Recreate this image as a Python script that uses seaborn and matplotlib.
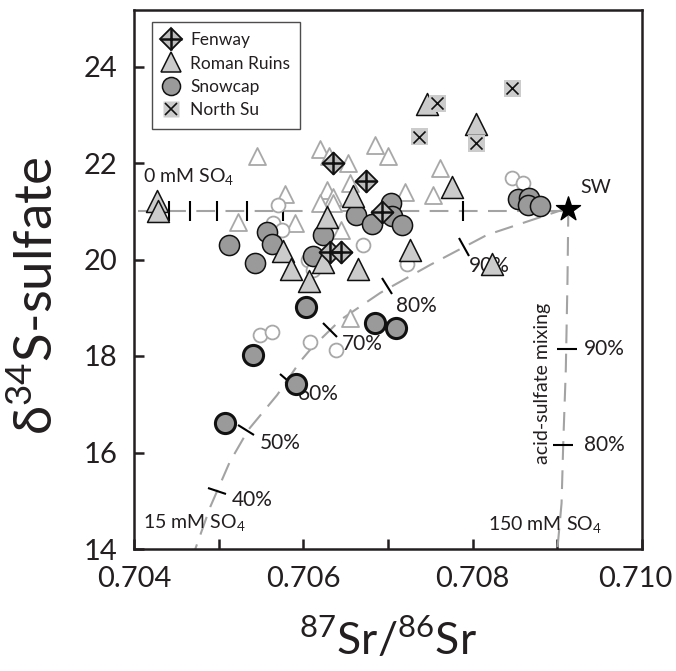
import numpy as np
import pandas as pd
import matplotlib
matplotlib.use("Agg")
import matplotlib.pyplot as plt
import seaborn as sns
from matplotlib.markers import MarkerStyle
from matplotlib.transforms import Affine2D, ScaledTranslation
from matplotlib.lines import Line2D
from matplotlib.legend_handler import HandlerTuple

sns.set_style("ticks")
plt.rcParams['font.family'] = ['Lato', 'DejaVu Sans']
plt.rcParams['mathtext.fontset'] = 'custom'
plt.rcParams['mathtext.rm'] = 'Lato'

# ---- data ----
fenway_sr = [0.70635, 0.70674, 0.70693, 0.70632, 0.70644]
fenway_s = [22.00, 21.63, 20.98, 20.16, 20.16]

roman_sr = [0.70427, 0.70428, 0.70576, 0.70586, 0.70607, 0.70623, 0.70628,
            0.70659, 0.70665, 0.70726, 0.70746, 0.70775, 0.70804, 0.70823]
roman_s = [21.21, 21.01, 20.18, 19.80, 19.55, 19.95, 20.88,
           21.32, 19.80, 20.20, 23.22, 21.50, 22.81, 19.91]

snow_sr = [0.70512, 0.70543, 0.70557, 0.70563, 0.70612, 0.70623, 0.70662,
           0.70681, 0.70703, 0.70705, 0.70717, 0.70853, 0.70866, 0.70865, 0.70879]
snow_s = [20.30, 19.93, 20.57, 20.32, 20.07, 20.51, 20.92,
          20.74, 21.17, 20.90, 20.72, 21.25, 21.27, 21.13, 21.11]
# Snowcap samples drawn with heavy outline
snow2_sr = [0.70603, 0.70541, 0.70591, 0.70508, 0.70685, 0.70710]
snow2_s = [19.02, 18.02, 17.42, 16.61, 18.68, 18.58]

northsu_sr = [0.70758, 0.70737, 0.70847, 0.70804]
northsu_s = [23.24, 22.54, 23.55, 22.41]

# open grey symbols (other data)
open_tri_sr = [0.70545, 0.70620, 0.70630, 0.70685, 0.70700, 0.70653, 0.70762,
               0.70578, 0.70628, 0.70635, 0.70655, 0.70720, 0.70753, 0.70523,
               0.70590, 0.70620, 0.70635, 0.70644, 0.70655]
open_tri_s = [22.15, 22.29, 22.15, 22.37, 22.15, 22.00, 21.90,
              21.36, 21.44, 21.30, 21.59, 21.40, 21.34, 20.78,
              20.76, 21.17, 21.17, 20.61, 18.79]
open_circ_sr = [0.70570, 0.70564, 0.70575, 0.70606, 0.70612, 0.70671, 0.70723,
                0.70847, 0.70859, 0.70549, 0.70563, 0.70608, 0.70639]
open_circ_s = [21.13, 20.76, 20.61, 19.99, 19.78, 20.30, 19.91,
               21.69, 21.59, 18.44, 18.50, 18.29, 18.12]

sw_sr, sw_s = 0.70913, 21.05

# mixing lines
fresh_tick_sr = [0.70441, 0.70466, 0.70498, 0.70534, 0.70576, 0.70632, 0.70789]

mix15_sr = [0.70913, 0.70817, 0.70750, 0.70691, 0.70644, 0.70610, 0.70596,
            0.70569, 0.70535, 0.70513, 0.70490, 0.70472]
mix15_s = [21.07, 20.51, 19.89, 19.31, 18.75, 18.17, 17.88,
           17.19, 16.47, 15.80, 14.87, 13.98]
mix15_tick_sr = [0.70790, 0.70699, 0.70632, 0.70581, 0.70532, 0.70498]
mix15_tick_s = [20.26, 19.45, 18.54, 17.50, 16.47, 15.20]
mix15_labels = ['90%', '80%', '70%', '60%', '50%', '40%']
mix15_label_sr = [0.70795, 0.70709, 0.70646, 0.70593, 0.70549, 0.70516]
mix15_label_s = [19.87, 19.04, 18.25, 17.21, 16.20, 15.02]

acid_sr = [0.70913, 0.70912, 0.70910, 0.70907, 0.70905, 0.70900]
acid_s = [21.07, 19.58, 17.71, 16.20, 14.95, 13.98]
acid_tick_sr = [0.70911, 0.70907]
acid_tick_s = [18.15, 16.16]
acid_labels = ['90%', '80%']

x_ticks = [0.704, 0.706, 0.708, 0.710]
x_ticklabels = ['0.704', '0.706', '0.708', '0.710']
x_minor = [0.705, 0.707, 0.709]
y_ticks = [14, 16, 18, 20, 22, 24]

# ---- figure ----
W, H = 676, 671
fig = plt.figure(figsize=(W / 100, H / 100), dpi=100)
ax = fig.add_axes([134 / W, 1 - 549 / H, 508 / W, 539 / H])
ax.set_xlim(0.704, 0.710)
ax.set_ylim(14, 14 + 539 / 48.25)

dash_kw = dict(color='#a3a3a3', lw=1.5, dashes=(9, 5), zorder=1)
ax.plot([0.70405, sw_sr], [21.0, 21.0], **dash_kw)
ax.plot(mix15_sr, mix15_s, **dash_kw)
ax.plot(acid_sr, acid_s, **dash_kw)


def perp_ticks(curve_x, curve_y, tx, ty, length=14):
    """short black ticks perpendicular to a curve (in screen space)"""
    pts = ax.transData.transform(np.column_stack([curve_x, curve_y]))
    tp = ax.transData.transform(np.column_stack([tx, ty]))
    for (px, py), x, y in zip(tp, tx, ty):
        d = np.hypot(pts[:, 0] - px, pts[:, 1] - py)
        i = int(np.argmin(d))
        j = i + 1 if i + 1 < len(pts) else i - 1
        a, b = pts[min(i, j)], pts[max(i, j)]
        ang = np.degrees(np.arctan2(b[1] - a[1], b[0] - a[0]))
        m = MarkerStyle('|', transform=Affine2D().rotate_deg(ang))
        ax.plot([x], [y], marker=m, ms=length, mew=1.5, color='k',
                ls='none', zorder=2)


ax.plot(fresh_tick_sr, [21.0] * len(fresh_tick_sr), marker='|', ms=14,
        mew=1.5, color='k', ls='none', zorder=2)
perp_ticks(mix15_sr, mix15_s, mix15_tick_sr, mix15_tick_s)
ax.plot(acid_tick_sr, acid_tick_s, marker='_', ms=14, mew=1.5, color='k',
        ls='none', zorder=2)

# open (other) data
sns.scatterplot(x=open_tri_sr, y=open_tri_s, marker='^', s=150,
                facecolor='white', edgecolor='#a8a8a8', linewidth=1.3,
                ax=ax, zorder=3, legend=False)
sns.scatterplot(x=open_circ_sr, y=open_circ_s, marker='o', s=100,
                facecolor='white', edgecolor='#a8a8a8', linewidth=1.3,
                ax=ax, zorder=3, legend=False)

# study data
sns.scatterplot(x=snow_sr, y=snow_s, marker='o', s=210, color='#9a9a9a',
                edgecolor='#111111', linewidth=1.1, ax=ax, zorder=4, legend=False)
sns.scatterplot(x=snow2_sr, y=snow2_s, marker='o', s=210, color='#9a9a9a',
                edgecolor='#111111', linewidth=2.2, ax=ax, zorder=4, legend=False)
sns.scatterplot(x=roman_sr, y=roman_s, marker='^', s=250, color='#cbcbcb',
                edgecolor='#111111', linewidth=1.1, ax=ax, zorder=5, legend=False)
sns.scatterplot(x=northsu_sr, y=northsu_s, marker='s', s=150, color='#cccccc',
                edgecolor='none', linewidth=0, ax=ax, zorder=5, legend=False)
sns.scatterplot(x=northsu_sr, y=northsu_s, marker='x', s=75, color='#111111',
                linewidth=1.2, ax=ax, zorder=6, legend=False)
sns.scatterplot(x=fenway_sr, y=fenway_s, marker='D', s=125, color='#bdbdbd',
                edgecolor='#111111', linewidth=1.3, ax=ax, zorder=6, legend=False)
sns.scatterplot(x=fenway_sr, y=fenway_s, marker='+', s=250, color='#111111',
                linewidth=1.8, ax=ax, zorder=7, legend=False)
ax.scatter([sw_sr], [sw_s], marker='*', s=330, color='k', zorder=8)

# annotations
txt = dict(fontsize=14, color='#231f20', va='center', ha='left')
ax.text(0.70411, 21.71, r'0 mM SO$_\mathregular{4}$', **txt)
ax.text(0.70411, 14.54, r'15 mM SO$_\mathregular{4}$', **txt)
ax.text(0.70818, 14.50, r'150 mM SO$_\mathregular{4}$', **txt)
ax.text(0.70927, 21.50, 'SW', **txt)
for lab, x, y in zip(mix15_labels, mix15_label_sr, mix15_label_s):
    ax.text(x, y, lab, fontsize=15, color='#231f20', va='center', ha='left')
for lab, y in zip(acid_labels, acid_tick_s):
    ax.text(0.70931, y, lab, fontsize=15, color='#231f20', va='center', ha='left')
ax.text(0.70882, 17.44, 'acid-sulfate mixing', fontsize=14, color='#231f20',
        rotation=90, va='center', ha='center')

# axes styling
ax.set_xticks(x_ticks)
ax.set_xticklabels(x_ticklabels)
ax.set_xticks(x_minor, minor=True)
ax.set_yticks(y_ticks)
ax.tick_params(which='both', direction='in', length=7, width=1.8,
               color='#231f20', labelsize=21, pad=12, labelcolor='#231f20')
# keep the last x label inside the canvas
last = ax.get_xticklabels()[-1]
last.set_transform(last.get_transform() + ScaledTranslation(-5 / 72, 0, fig.dpi_scale_trans))
for sp in ax.spines.values():
    sp.set_linewidth(1.8)
    sp.set_color('#231f20')
ax.set_xlabel(r'$^\mathregular{87}$Sr/$^\mathregular{86}$Sr', fontsize=32,
              color='#231f20')
ax.set_ylabel(r'δ$^\mathregular{34}$S-sulfate', fontsize=38, color='#231f20')
ax.xaxis.set_label_coords(0.5, -0.127)
ax.yaxis.set_label_coords(-0.142, 0.47)

# legend
h_fen = (Line2D([], [], marker='D', ms=11, mfc='#bdbdbd', mec='#111111', mew=1.3, ls='none'),
         Line2D([], [], marker='+', ms=15.5, mec='#111111', mew=1.8, ls='none'))
h_rom = Line2D([], [], marker='^', ms=14, mfc='#cbcbcb', mec='#111111', mew=1.1, ls='none')
h_snow = Line2D([], [], marker='o', ms=13, mfc='#9a9a9a', mec='#111111', mew=1.1, ls='none')
h_ns = (Line2D([], [], marker='s', ms=11.5, mfc='#cccccc', mec='none', ls='none'),
        Line2D([], [], marker='x', ms=8.5, mec='#111111', mew=1.2, ls='none'))
leg = ax.legend([h_fen, h_rom, h_snow, h_ns],
                ['Fenway', 'Roman Ruins', 'Snowcap', 'North Su'],
                handler_map={tuple: HandlerTuple(ndivide=1, pad=0)},
                loc='upper left', bbox_to_anchor=(0.035, 0.978), borderaxespad=0,
                fontsize=12.5, frameon=True, fancybox=False, handlelength=1.0,
                handletextpad=0.6, labelspacing=0.42, borderpad=0.6)
leg.get_frame().set_edgecolor('#231f20')
leg.get_frame().set_linewidth(1.0)
for t in leg.get_texts():
    t.set_color('#231f20')

fig.savefig('out.png', dpi=100)
